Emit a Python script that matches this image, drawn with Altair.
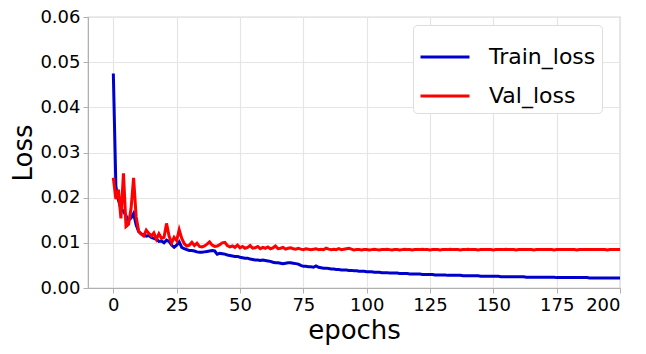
import altair as alt
import pandas as pd

train_loss = [
    0.0475, 0.0225, 0.0195, 0.0175, 0.0170, 0.0160, 0.0150, 0.0155, 0.0165, 0.0140,
    0.0125, 0.0120, 0.0118, 0.0115, 0.0116, 0.0112, 0.0110, 0.0108, 0.0103, 0.0104,
    0.0100, 0.0106, 0.0103, 0.0095, 0.0090, 0.0095, 0.0102, 0.0090, 0.0087, 0.0085,
    0.0083, 0.0083, 0.0082, 0.0080, 0.0079, 0.0079, 0.0080, 0.0081, 0.0082, 0.0083,
    0.0082, 0.0075, 0.0077, 0.0076, 0.0075, 0.0073, 0.0072, 0.0071, 0.0070, 0.0070,
    0.0068, 0.0067, 0.0066, 0.0066, 0.0064, 0.0063, 0.0062, 0.0062, 0.0061, 0.0062,
    0.0061, 0.0060, 0.0059, 0.0057, 0.0056, 0.0056, 0.0055, 0.0054, 0.0055, 0.0056,
    0.0056, 0.0055, 0.0054, 0.0053, 0.0050, 0.0048, 0.0048, 0.0047, 0.0047, 0.0046,
    0.0049, 0.0046, 0.0045, 0.0044, 0.0044, 0.0043, 0.0042, 0.0042, 0.0041, 0.0041,
    0.0040, 0.0040, 0.0040, 0.0039, 0.0039, 0.0038, 0.0038, 0.0037, 0.0037, 0.0037,
    0.0036, 0.0036, 0.0036, 0.0035, 0.0035, 0.0035, 0.0034, 0.0034, 0.0034, 0.0033,
    0.0033, 0.0033, 0.0033, 0.0032, 0.0032, 0.0032, 0.0032, 0.0031, 0.0031, 0.0031,
    0.0031, 0.0031, 0.0030, 0.0030, 0.0030, 0.0030, 0.0030, 0.0029, 0.0029, 0.0029,
    0.0029, 0.0029, 0.0028, 0.0028, 0.0028, 0.0028, 0.0028, 0.0028, 0.0027, 0.0027,
    0.0027, 0.0027, 0.0027, 0.0027, 0.0027, 0.0026, 0.0026, 0.0026, 0.0026, 0.0026,
    0.0026, 0.0026, 0.0026, 0.0025, 0.0025, 0.0025, 0.0025, 0.0025, 0.0025, 0.0025,
    0.0025, 0.0025, 0.0025, 0.0024, 0.0024, 0.0024, 0.0024, 0.0024, 0.0024, 0.0024,
    0.0024, 0.0024, 0.0024, 0.0024, 0.0024, 0.0023, 0.0023, 0.0023, 0.0023, 0.0023,
    0.0023, 0.0023, 0.0023, 0.0023, 0.0023, 0.0023, 0.0023, 0.0023, 0.0022, 0.0022,
    0.0022, 0.0022, 0.0022, 0.0022, 0.0022, 0.0022, 0.0022, 0.0022, 0.0022, 0.0022,
    0.0022,
]

val_loss = [
    0.0244, 0.0197, 0.0218, 0.0154, 0.0254, 0.0136, 0.0141, 0.0176, 0.0244, 0.0158,
    0.0126, 0.0119, 0.0115, 0.0128, 0.0121, 0.0115, 0.0122, 0.0108, 0.0120, 0.0110,
    0.0112, 0.0143, 0.0115, 0.0100, 0.0112, 0.0105, 0.0129, 0.0110, 0.0098, 0.0093,
    0.0095, 0.0101, 0.0094, 0.0099, 0.0092, 0.0091, 0.0093, 0.0097, 0.0102, 0.0095,
    0.0092, 0.0093, 0.0096, 0.0100, 0.0101, 0.0094, 0.0091, 0.0093, 0.0090, 0.0095,
    0.0089, 0.0092, 0.0088, 0.0090, 0.0094, 0.0088, 0.0089, 0.0092, 0.0087, 0.0090,
    0.0088, 0.0091, 0.0087, 0.0089, 0.0093, 0.0087, 0.0088, 0.0090, 0.0086, 0.0088,
    0.0089, 0.0087, 0.0086, 0.0088, 0.0086, 0.0085, 0.0087, 0.0086, 0.0085, 0.0086,
    0.0087, 0.0085, 0.0086, 0.0085, 0.0088, 0.0086, 0.0085, 0.0086, 0.0085, 0.0087,
    0.0085, 0.0086, 0.0087, 0.0088, 0.0086, 0.0084, 0.0085, 0.0085, 0.0084, 0.0085,
    0.0085, 0.0084, 0.0085, 0.0086, 0.0085, 0.0084, 0.0085, 0.0085, 0.0086, 0.0085,
    0.0084, 0.0085, 0.0085, 0.0084, 0.0085, 0.0086, 0.0085, 0.0085, 0.0084, 0.0085,
    0.0085, 0.0085, 0.0086, 0.0085, 0.0085, 0.0084, 0.0085, 0.0085, 0.0085, 0.0084,
    0.0085, 0.0085, 0.0085, 0.0086, 0.0085, 0.0085, 0.0085, 0.0084, 0.0085, 0.0085,
    0.0086, 0.0085, 0.0085, 0.0085, 0.0084, 0.0085, 0.0085, 0.0085, 0.0085, 0.0085,
    0.0084, 0.0085, 0.0085, 0.0085, 0.0085, 0.0086, 0.0085, 0.0085, 0.0085, 0.0084,
    0.0085, 0.0085, 0.0085, 0.0085, 0.0085, 0.0085, 0.0084, 0.0085, 0.0085, 0.0085,
    0.0085, 0.0085, 0.0085, 0.0085, 0.0084, 0.0085, 0.0085, 0.0085, 0.0085, 0.0085,
    0.0085, 0.0085, 0.0085, 0.0084, 0.0085, 0.0085, 0.0085, 0.0085, 0.0085, 0.0085,
    0.0085, 0.0085, 0.0085, 0.0085, 0.0085, 0.0084, 0.0085, 0.0085, 0.0085, 0.0085,
    0.0085,
]

series_names = ["Train_loss", "Val_loss"]
series_colors = ["#0000cd", "#ff0000"]
x_ticks = [0, 25, 50, 75, 100, 125, 150, 175, 200]
y_ticks = [0.0, 0.01, 0.02, 0.03, 0.04, 0.05, 0.06]

rows = []
for i, v in enumerate(train_loss):
    rows.append({"epoch": i, "loss": v, "series": series_names[0]})
for i, v in enumerate(val_loss):
    rows.append({"epoch": i, "loss": v, "series": series_names[1]})
df = pd.DataFrame(rows)

font = "DejaVu Sans"

chart = alt.Chart(df).mark_line(strokeWidth=3).encode(
    x=alt.X("epoch:Q",
            scale=alt.Scale(domain=[-10, 200], nice=False, zero=False),
            axis=alt.Axis(values=x_ticks, title="epochs", format="d")),
    y=alt.Y("loss:Q",
            scale=alt.Scale(domain=[0, 0.06], nice=False),
            axis=alt.Axis(values=y_ticks, title="Loss", format=".2f")),
    color=alt.Color("series:N",
                    scale=alt.Scale(domain=series_names, range=series_colors),
                    legend=alt.Legend(title=None, orient="none", legendX=325, legendY=8,
                                      symbolType="M-1,0H1", symbolSize=2400,
                                      symbolStrokeWidth=3, labelFontSize=22,
                                      labelFont=font, labelColor="#000000",
                                      fillColor="white", strokeColor="#dddddd",
                                      cornerRadius=4, padding=6, rowPadding=2,
                                      labelOffset=18)),
    order="epoch:Q",
).properties(
    width=532, height=271,
    autosize=alt.AutoSizeParams(type="none"),
    padding={"left": 80, "top": 9, "right": 18, "bottom": 58},
).configure_view(
    stroke="#b0b0b0", strokeWidth=1.2,
).configure_axis(
    labelFont=font, titleFont=font, labelFontSize=18, titleFontSize=26,
    titleFontWeight="normal", labelColor="#000000", titleColor="#000000",
    domainColor="#b0b0b0", tickColor="#b0b0b0", tickSize=5,
    gridColor="#e5e5e5", gridWidth=1.2, labelPadding=3,
).configure_axisY(
    titlePadding=3,
).configure_axisX(
    titlePadding=3,
)

chart.save("out.html", embed_options={"renderer": "svg", "actions": False})
